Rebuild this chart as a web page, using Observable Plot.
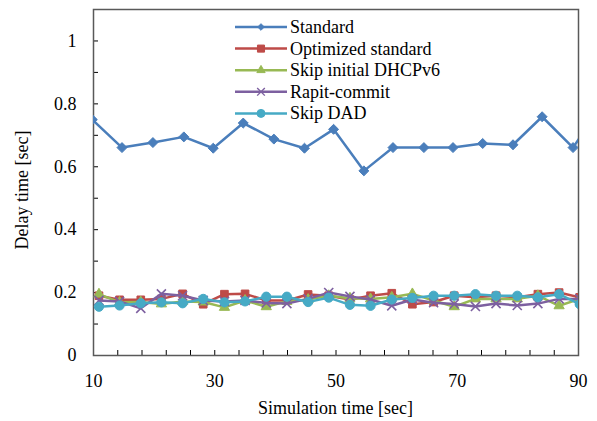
<!DOCTYPE html>
<html><head><meta charset="utf-8">
<script src="https://cdn.jsdelivr.net/npm/d3@7"></script>
<script src="https://cdn.jsdelivr.net/npm/@observablehq/plot@0.6"></script>
<style>body{margin:0;background:#fff;}</style>
</head><body><div id="chart"></div>
<script>
const seriesNames = ["Standard", "Optimized standard", "Skip initial DHCPv6", "Rapit-commit", "Skip DAD"];
const seriesColors = ["#4a7ebb", "#be4b48", "#98b954", "#7d60a0", "#46aac5"];
const seriesSymbols = ["diamond2", "square", "triangle", "times", "circle"];
const xLabel = "Simulation time [sec]";
const yLabel = "Delay time [sec]";

const standardTime = [9.8, 14.7, 19.8, 24.9, 29.75, 34.7, 39.75, 44.8, 49.6, 54.6, 59.4, 64.5, 69.3, 74.2, 79.2, 84, 89.1, 94];
const standardDelay = [0.75, 0.661, 0.677, 0.695, 0.659, 0.739, 0.688, 0.659, 0.719, 0.587, 0.661, 0.661, 0.661, 0.674, 0.67, 0.759, 0.661, 0.80];

const otherTime = [10.9, 14.3, 17.8, 21.2, 24.7, 28.1, 31.6, 35.0, 38.5, 41.9, 45.4, 48.8, 52.3, 55.7, 59.2, 62.6, 66.1, 69.5, 73.0, 76.4, 79.9, 83.3, 86.8, 90.2];
const optimizedDelay = [0.19, 0.177, 0.177, 0.18, 0.196, 0.163, 0.195, 0.196, 0.175, 0.175, 0.194, 0.19, 0.178, 0.19, 0.198, 0.163, 0.17, 0.19, 0.185, 0.19, 0.185, 0.195, 0.2, 0.185];
const skipInitialDelay = [0.195, 0.169, 0.17, 0.164, 0.172, 0.17, 0.153, 0.175, 0.155, 0.172, 0.178, 0.19, 0.182, 0.18, 0.185, 0.196, 0.175, 0.155, 0.18, 0.18, 0.18, 0.19, 0.158, 0.18];
const rapitDelay = [0.175, 0.172, 0.15, 0.196, 0.19, 0.175, 0.172, 0.175, 0.167, 0.165, 0.18, 0.2, 0.188, 0.178, 0.158, 0.178, 0.168, 0.164, 0.156, 0.165, 0.159, 0.165, 0.18, 0.18];
const skipDadDelay = [0.155, 0.159, 0.166, 0.169, 0.166, 0.18, 0.169, 0.172, 0.187, 0.187, 0.17, 0.184, 0.161, 0.158, 0.178, 0.183, 0.19, 0.19, 0.195, 0.19, 0.19, 0.185, 0.195, 0.163];

const xTicks = d3.range(10, 90.01, 4);
const yTicks = d3.range(0, 11).map(i => i / 10);

const seriesData = [
  standardTime.map((t, i) => ({t, v: standardDelay[i]})),
  otherTime.map((t, i) => ({t, v: optimizedDelay[i]})),
  otherTime.map((t, i) => ({t, v: skipInitialDelay[i]})),
  otherTime.map((t, i) => ({t, v: rapitDelay[i]})),
  otherTime.map((t, i) => ({t, v: skipDadDelay[i]}))
];
const dotR = [4.5, 4.3, 3.8, 4.2, 4.6];

const marks = [Plot.frame({stroke: "#595959", strokeWidth: 1.5})];
seriesData.forEach((data, i) => {
  marks.push(Plot.line(data, {x: "t", y: "v", stroke: seriesColors[i], strokeWidth: 2.5, clip: true}));
  const isTimes = seriesSymbols[i] === "times";
  marks.push(Plot.dot(data, {
    x: "t", y: "v", symbol: () => seriesSymbols[i], r: dotR[i],
    fill: isTimes ? "none" : seriesColors[i], stroke: seriesColors[i],
    strokeWidth: isTimes ? 1.6 : 1, clip: true
  }));
});

const fontFamily = "'Liberation Serif', 'Times New Roman', serif";
const plot = Plot.plot({
  width: 597, height: 421,
  marginLeft: 93, marginRight: 19, marginTop: 9, marginBottom: 66,
  style: {fontFamily, fontSize: "18px", color: "#000", background: "#fff"},
  symbol: {type: "identity"},
  x: {domain: [10, 90], ticks: xTicks, tickFormat: d => ((d - 10) % 20 === 0 ? String(d) : ""),
      tickSize: -5, tickPadding: 24, label: null},
  y: {domain: [0, 1.1], ticks: yTicks, tickFormat: d => { const k = Math.round(d * 10); return k % 2 ? "" : String(k / 10); },
      tickSize: -5, tickPadding: 22, label: null},
  marks
});

const svg = d3.select(plot);
// axis titles
svg.append("text").attr("x", 335.5).attr("y", 408).attr("dy", "0.32em").attr("text-anchor", "middle")
  .attr("font-family", fontFamily).attr("font-size", 18).attr("fill", "#000").text(xLabel);
svg.append("text").attr("transform", "translate(22,190) rotate(-90)").attr("dy", "0.32em").attr("text-anchor", "middle")
  .attr("font-family", fontFamily).attr("font-size", 18).attr("fill", "#000").text(yLabel);

// in-plot legend
const lg = svg.append("g").attr("font-family", fontFamily).attr("font-size", 18).attr("text-anchor", "start");
const symMap = {diamond2: d3.symbolDiamond2, square: d3.symbolSquare, triangle: d3.symbolTriangle, times: d3.symbolTimes, circle: d3.symbolCircle};
const legendSize = [28, 50, 30, 40, 50];
seriesNames.forEach((name, i) => {
  const y = 27 + i * 21.6;
  lg.append("line").attr("x1", 235).attr("x2", 287).attr("y1", y).attr("y2", y)
    .attr("stroke", seriesColors[i]).attr("stroke-width", 2.5);
  const isTimes = seriesSymbols[i] === "times";
  lg.append("path").attr("transform", `translate(261,${y})`)
    .attr("d", d3.symbol(symMap[seriesSymbols[i]], legendSize[i])())
    .attr("fill", isTimes ? "none" : seriesColors[i]).attr("stroke", seriesColors[i]).attr("stroke-width", isTimes ? 1.4 : 1);
  lg.append("text").attr("x", 290).attr("y", y).attr("dy", "0.33em").attr("fill", "#000").text(name);
});

document.getElementById("chart").appendChild(plot);
</script>
</body></html>
